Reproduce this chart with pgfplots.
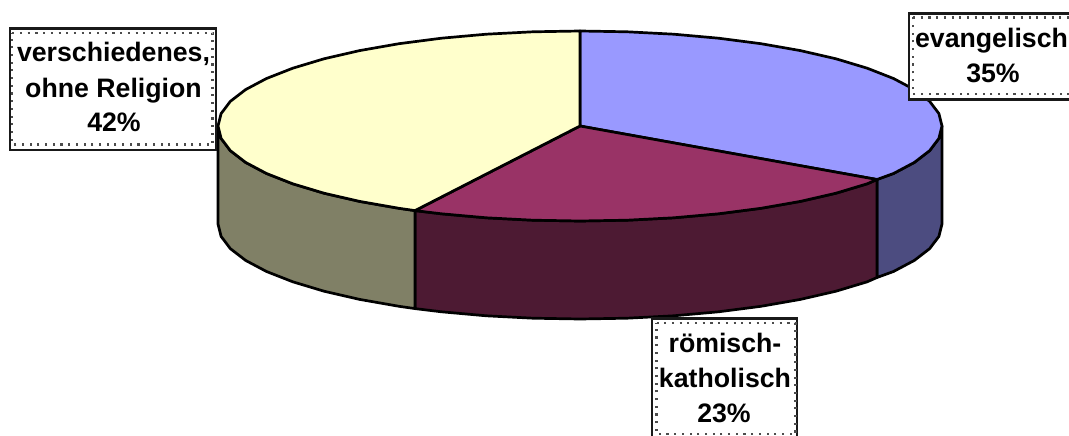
\documentclass[border=0pt]{standalone}
\usepackage{fontspec}
\setmainfont{Liberation Sans}
\usepackage{pgfplots}
\pgfplotsset{compat=1.18}
\definecolor{topblue}{HTML}{9999FF}
\definecolor{topred}{HTML}{993366}
\definecolor{topyellow}{HTML}{FFFFCC}
\definecolor{sideblue}{HTML}{4C4C80}
\definecolor{sidered}{HTML}{4D1A33}
\definecolor{sideyellow}{HTML}{808066}
\pgfplotsset{
  slice/.style={draw=black, line width=2.7pt, line join=round, fill=#1},
  boxline/.style={draw=black!90, line width=2.9pt, fill=white, line join=miter},
  dotline/.style={draw=black!70, line width=2.1pt, dash pattern=on 2.1pt off 5.6pt},
}
\newcommand{\lab}[3]{\node[anchor=base, inner sep=0pt, font=\fontsize{26.7}{34}\selectfont\bfseries] at (axis cs:#1,#2) {#3};}
\begin{document}
\begin{tikzpicture}
\path[use as bounding box] (0,0) rectangle (1069pt,436pt);
\begin{axis}[
  at={(0,0)}, anchor=south west,
  scale only axis,
  width=1069pt, height=436pt,
  xmin=0, xmax=1069,
  ymin=0, ymax=436,
  y dir=reverse,
  hide axis,
  clip=true,
]
% side walls
\addplot[slice=sideblue] coordinates {
 (942,126) (938.9,138.4) (929.7,150.6) (914.4,162.4) (893.5,173.5) (877,179.5)
 (877,277.5) (893.5,271.5) (914.4,260.4) (929.7,248.6) (938.9,236.4) (942,224)
} -- cycle;
\addplot[slice=sidered] coordinates {
 (877,179.5) (867.2,183.8) (836,193.2) (800.4,201.4) (761,208.3) (718.5,213.8) (673.7,217.8) (627.2,220.2) (580,221)
 (532.8,220.2) (486.3,217.8) (441.5,213.8) (415,210.6)
 (415,308.6) (441.5,311.8) (486.3,315.8) (532.8,318.2) (580,319)
 (627.2,318.2) (673.7,315.8) (718.5,311.8) (761,306.3) (800.4,299.4) (836,291.2) (867.2,281.8) (877,277.5)
} -- cycle;
\addplot[slice=sideyellow] coordinates {
 (415,210.6) (399,208.3) (359.6,201.4) (324,193.2) (292.8,183.8) (266.5,173.5) (245.6,162.4) (230.3,150.6) (221.1,138.4) (218,126)
 (218,224) (221.1,236.4) (230.3,248.6) (245.6,260.4) (266.5,271.5) (292.8,281.8) (324,291.2) (359.6,299.4) (399,306.3) (415,308.6)
} -- cycle;
% top face
\addplot[slice=topblue] coordinates {
 (580,126) (580,31) (627.2,31.8) (673.7,34.2) (718.5,38.2) (761,43.7) (800.4,50.6) (836,58.8) (867.2,68.2) (893.5,78.5)
 (914.4,89.6) (929.7,101.4) (938.9,113.6) (942,126) (938.9,138.4) (929.7,150.6) (914.4,162.4) (893.5,173.5) (877,179.5)
} -- cycle;
\addplot[slice=topred] coordinates {
 (580,126) (877,179.5) (867.2,183.8) (836,193.2) (800.4,201.4) (761,208.3) (718.5,213.8) (673.7,217.8) (627.2,220.2) (580,221)
 (532.8,220.2) (486.3,217.8) (441.5,213.8) (415,210.6)
} -- cycle;
\addplot[slice=topyellow] coordinates {
 (580,126) (415,210.6) (399,208.3) (359.6,201.4) (324,193.2) (292.8,183.8) (266.5,173.5) (245.6,162.4) (230.3,150.6) (221.1,138.4) (218,126)
 (221.1,113.6) (230.3,101.4) (245.6,89.6) (266.5,78.5) (292.8,68.2) (324,58.8) (359.6,50.6) (399,43.7) (441.5,38.2) (486.3,34.2) (532.8,31.8) (580,31)
} -- cycle;
% label boxes
\addplot[boxline] coordinates {(10,28.3) (216,28.3) (216,150) (10,150)} -- cycle;
\addplot[dotline] coordinates {(12.3,32.7) (212.5,32.7) (212.5,144.5) (12.3,144.5)} -- cycle;
\addplot[boxline] coordinates {(909,13.7) (1080,13.7) (1080,99.7) (909,99.7)} -- cycle;
\addplot[dotline] coordinates {(913,17.5) (1080,17.5) (1080,94) (913,94)} -- cycle;
\addplot[boxline] coordinates {(652,318.3) (797,318.3) (797,445) (652,445)} -- cycle;
\addplot[dotline] coordinates {(656.5,323) (795.5,323) (795.5,434.3) (656.5,434.3)} -- cycle;
\lab{113.5}{62}{verschiedenes,}
\lab{113.5}{97}{ohne Religion}
\lab{114}{131.7}{42\%}
\lab{991.5}{47.7}{evangelisch}
\lab{993}{82}{35\%}
\lab{725}{352.7}{römisch-}
\lab{725}{387.7}{katholisch}
\lab{724}{422}{23\%}
\end{axis}
\end{tikzpicture}
\end{document}
